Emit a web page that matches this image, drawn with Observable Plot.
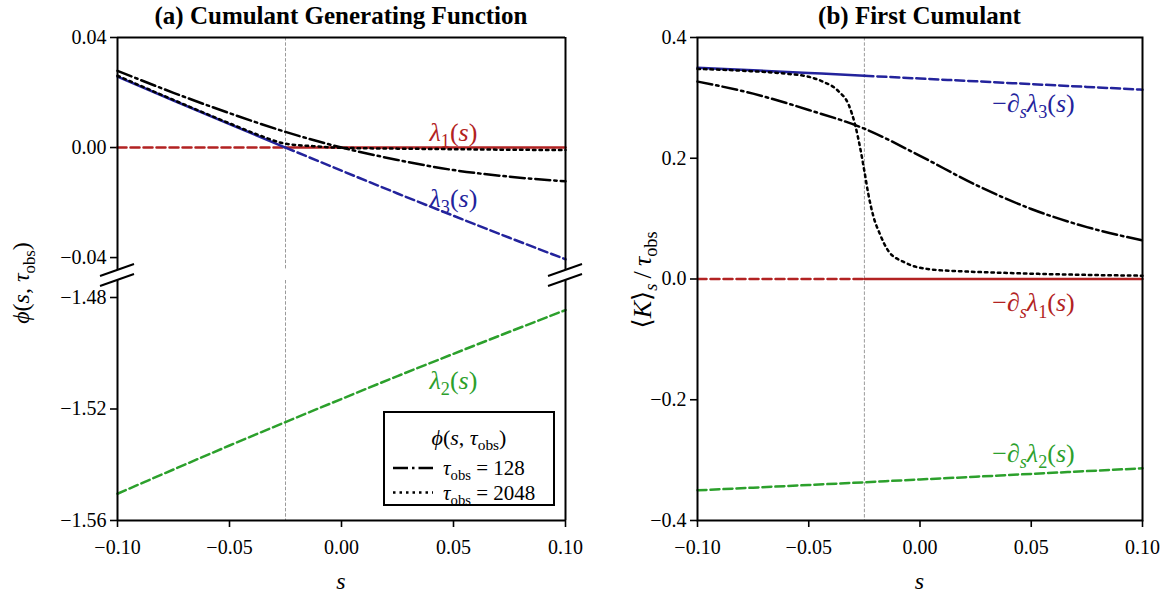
<!DOCTYPE html>
<html><head><meta charset="utf-8">
<script src="https://cdn.jsdelivr.net/npm/d3@7"></script>
<script src="https://cdn.jsdelivr.net/npm/@observablehq/plot@0.6"></script>
<style>
body{margin:0;background:#fff;}
#fig{position:relative;width:1173px;height:599px;overflow:hidden;background:#fff;}
#fig svg{position:absolute;overflow:visible;}
#fig g[aria-label="y-axis tick"] path,#fig g[aria-label="x-axis tick"] path{stroke-width:1.6px;}
</style></head><body><div id="fig"></div>
<script>
// ---------- data ----------
const S = [-0.1,-0.075,-0.05,-0.025,0,0.025,0.05,0.075,0.1];
const lambda1 = [0,0,0,0,0,0,0,0,0];
const lambda3 = [0.0258,0.0171,0.0085,0,-0.0084,-0.0167,-0.0248,-0.0328,-0.0406];
const lambda2 = [-1.5504,-1.5417,-1.5331,-1.5247,-1.5164,-1.5082,-1.5002,-1.4923,-1.4845];
const phi128 = [0.0279,0.0199,0.0125,0.0057,0.0000,-0.0045,-0.0082,-0.0106,-0.0123];
const S2048 = [-0.1,-0.075,-0.05,-0.0375,-0.025,-0.0125,0,0.025,0.05,0.075,0.1];
const phi2048 = [0.0261,0.0173,0.0088,0.0047,0.0014,0.0005,-0.0001,-0.0004,-0.0006,-0.0008,-0.0009];

const dLambda1 = [0,0,0,0,0,0,0,0,0];
const dLambda3 = [0.350,0.3456,0.3412,0.3367,0.332,0.3275,0.3228,0.3182,0.3136];
const dLambda2 = [-0.350,-0.3456,-0.3412,-0.3367,-0.332,-0.3275,-0.3228,-0.3182,-0.3136];
const K128 = [0.327,0.307,0.280,0.249,0.204,0.156,0.116,0.086,0.064];
const SK2048 = [-0.1,-0.08,-0.0588,-0.05,-0.044,-0.0366,-0.0321,-0.0292,-0.0269,-0.025,-0.0232,-0.021,-0.018,-0.0143,-0.0069,0.0035,0.02,0.035,0.0533,0.075,0.1];
const K2048 = [0.348,0.345,0.3395,0.335,0.3274,0.3109,0.2889,0.2559,0.2173,0.1788,0.1403,0.1045,0.0743,0.0468,0.0275,0.0165,0.0125,0.0105,0.0085,0.0068,0.0055];

const sStar = -0.025;
const xTicks = [-0.1,-0.05,0,0.05,0.1];
const yTicksTop = [0.04,0,-0.04];
const yTicksBottom = [-1.48,-1.52,-1.56];
const yTicksRight = [0.4,0.2,0,-0.2,-0.4];

const labelsTop = ["λ1(s)","λ3(s)"], labelsTopS = [0.05,0.05], labelsTopV = [0.0055,-0.0185];
const labelsBottom = ["λ2(s)"], labelsBottomS = [0.05], labelsBottomV = [-1.5098];
const labelsRight = ["−∂sλ3(s)","−∂sλ1(s)","−∂sλ2(s)"], labelsRightS = [0.051,0.051,0.051], labelsRightV = [0.291,-0.040,-0.289];

const RED = "#b22222", BLUE = "#23239c", GREEN = "#2ca02c";
const FONT = '"Liberation Serif","DejaVu Serif",serif';
const DASH = "9,4", DASHDOT = "15,4,2.5,4", DOT = "2.5,4";

const tab = (xs, ys) => xs.map((s, i) => ({s, v: ys[i]}));
const before = d => d.filter(p => p.s <= sStar + 1e-9);
const after = d => d.filter(p => p.s >= sStar - 1e-9);

// ---------- rich math text ----------
function rich(parts, size) {
  let cur = 0, out = "";
  for (const p of parts) {
    const q = typeof p === "string" ? {t: p} : p;
    const off = q.sub ? size * 0.24 : 0;
    const dy = off - cur; cur = off;
    const a = [];
    if (q.i) a.push('font-style="italic"');
    if (q.sub) a.push(`font-size="${(size * 0.7).toFixed(1)}"`);
    if (dy) a.push(`dy="${dy.toFixed(2)}"`);
    out += `<tspan ${a.join(" ")}>${q.t}</tspan>`;
  }
  if (cur) out += `<tspan dy="${(-cur).toFixed(2)}"></tspan>`;
  return out;
}
const I = t => ({t, i: true}), SUB = t => ({t, sub: true}), ISUB = t => ({t, i: true, sub: true});
const RICH = {
  "λ1(s)": [I("λ"), SUB("1"), "(", I("s"), ")"],
  "λ2(s)": [I("λ"), SUB("2"), "(", I("s"), ")"],
  "λ3(s)": [I("λ"), SUB("3"), "(", I("s"), ")"],
  "−∂sλ1(s)": ["−", "∂", ISUB("s"), I("λ"), SUB("1"), "(", I("s"), ")"],
  "−∂sλ2(s)": ["−", "∂", ISUB("s"), I("λ"), SUB("2"), "(", I("s"), ")"],
  "−∂sλ3(s)": ["−", "∂", ISUB("s"), I("λ"), SUB("3"), "(", I("s"), ")"],
};
function richify(svg, size) {
  svg.querySelectorAll("text").forEach(t => {
    const k = t.textContent;
    if (RICH[k]) t.innerHTML = rich(RICH[k], size);
  });
}

const fig = document.getElementById("fig");
const LABEL_SIZE = 26;
const common = {style: {fontFamily: FONT, fontSize: "20px", color: "black", background: "transparent"}};
const vline = Plot.ruleX([sStar], {stroke: "#9a9a9a", strokeWidth: 1, strokeDasharray: "3.5,1.8"});

function place(svg, left, top) {
  svg.style.left = left + "px"; svg.style.top = top + "px";
  fig.appendChild(svg);
}
function breakMarks(plot, yv) {
  const xs = plot.scale("x"), ys = plot.scale("y");
  const y = ys.apply(yv);
  for (const xv of [-0.1, 0.1]) {
    const x = xs.apply(xv);
    const l = document.createElementNS("http://www.w3.org/2000/svg", "line");
    l.setAttribute("x1", x - 17); l.setAttribute("y1", y + 6);
    l.setAttribute("x2", x + 17); l.setAttribute("y2", y - 6);
    l.setAttribute("stroke", "black"); l.setAttribute("stroke-width", 2);
    plot.appendChild(l);
  }
}

// ---------- left top ----------
const topDomain = [-0.0447, 0.04];
const pTop = Plot.plot({
  ...common, width: 590, height: 275,
  marginLeft: 117, marginRight: 25, marginTop: 37, marginBottom: 5,
  x: {domain: [-0.1, 0.1], axis: null},
  y: {domain: topDomain, ticks: yTicksTop, tickFormat: ".2f", tickSize: 7, tickPadding: 4, label: null},
  marks: [
    vline,
    Plot.line(before(tab(S, lambda1)), {x: "s", y: "v", stroke: RED, strokeWidth: 2.5, strokeDasharray: DASH}),
    Plot.line(after(tab(S, lambda1)), {x: "s", y: "v", stroke: RED, strokeWidth: 2.5}),
    Plot.line(before(tab(S, lambda3)), {x: "s", y: "v", stroke: BLUE, strokeWidth: 2.5, curve: "monotone-x"}),
    Plot.line(after(tab(S, lambda3)), {x: "s", y: "v", stroke: BLUE, strokeWidth: 2.5, strokeDasharray: DASH, curve: "monotone-x"}),
    Plot.line(tab(S, phi128), {x: "s", y: "v", stroke: "black", strokeWidth: 2.5, strokeDasharray: DASHDOT, curve: "monotone-x"}),
    Plot.line(tab(S2048, phi2048), {x: "s", y: "v", stroke: "black", strokeWidth: 2.5, strokeDasharray: DOT, curve: "monotone-x"}),
    Plot.text(labelsTop.map((t, i) => ({t, s: labelsTopS[i], v: labelsTopV[i], c: [RED, BLUE][i]})),
      {x: "s", y: "v", text: "t", fill: "c", fontSize: LABEL_SIZE}),
    Plot.ruleX([-0.1, 0.1], {stroke: "black", strokeWidth: 2}),
    Plot.ruleY([topDomain[1]], {stroke: "black", strokeWidth: 2})
  ]
});
richify(pTop, LABEL_SIZE);
breakMarks(pTop, topDomain[0]);
place(pTop, 0, 0);

// ---------- left bottom ----------
const botDomain = [-1.56, -1.4739];
const pBot = Plot.plot({
  ...common, width: 590, height: 324,
  marginLeft: 117, marginRight: 25, marginTop: 5, marginBottom: 79,
  x: {domain: [-0.1, 0.1], ticks: xTicks, tickFormat: ".2f", tickSize: 7, tickPadding: 12, label: null},
  y: {domain: botDomain, ticks: yTicksBottom, tickFormat: ".2f", tickSize: 7, tickPadding: 4, label: null},
  marks: [
    vline,
    Plot.line(tab(S, lambda2), {x: "s", y: "v", stroke: GREEN, strokeWidth: 2.5, strokeDasharray: DASH, curve: "monotone-x"}),
    Plot.text(labelsBottom.map((t, i) => ({t, s: labelsBottomS[i], v: labelsBottomV[i]})),
      {x: "s", y: "v", text: "t", fill: GREEN, fontSize: LABEL_SIZE}),
    Plot.ruleX([-0.1, 0.1], {stroke: "black", strokeWidth: 2}),
    Plot.ruleY([botDomain[0]], {stroke: "black", strokeWidth: 2})
  ]
});
richify(pBot, LABEL_SIZE);
breakMarks(pBot, botDomain[1]);
place(pBot, 0, 275);

// ---------- right ----------
const pRight = Plot.plot({
  ...common, width: 593, height: 599,
  marginLeft: 117, marginRight: 31, marginTop: 37, marginBottom: 79,
  x: {domain: [-0.1, 0.1], ticks: xTicks, tickFormat: ".2f", tickSize: 7, tickPadding: 12, label: null},
  y: {domain: [-0.4, 0.4], ticks: yTicksRight, tickFormat: ".1f", tickSize: 7, tickPadding: 4, label: null},
  marks: [
    vline,
    Plot.line(before(tab(S, dLambda1)), {x: "s", y: "v", stroke: RED, strokeWidth: 2.5, strokeDasharray: DASH}),
    Plot.line(after(tab(S, dLambda1)), {x: "s", y: "v", stroke: RED, strokeWidth: 2.5}),
    Plot.line(before(tab(S, dLambda3)), {x: "s", y: "v", stroke: BLUE, strokeWidth: 2.5, curve: "monotone-x"}),
    Plot.line(after(tab(S, dLambda3)), {x: "s", y: "v", stroke: BLUE, strokeWidth: 2.5, strokeDasharray: DASH, curve: "monotone-x"}),
    Plot.line(tab(S, dLambda2), {x: "s", y: "v", stroke: GREEN, strokeWidth: 2.5, strokeDasharray: DASH, curve: "monotone-x"}),
    Plot.line(tab(S, K128), {x: "s", y: "v", stroke: "black", strokeWidth: 2.5, strokeDasharray: DASHDOT, curve: "monotone-x"}),
    Plot.line(tab(SK2048, K2048), {x: "s", y: "v", stroke: "black", strokeWidth: 2.5, strokeDasharray: DOT, curve: "monotone-x"}),
    Plot.text(labelsRight.map((t, i) => ({t, s: labelsRightS[i], v: labelsRightV[i], c: [BLUE, RED, GREEN][i]})),
      {x: "s", y: "v", text: "t", fill: "c", fontSize: LABEL_SIZE}),
    Plot.frame({stroke: "black", strokeWidth: 2})
  ]
});
richify(pRight, LABEL_SIZE);
place(pRight, 580, 0);

// ---------- overlay: titles, axis labels, legend ----------
const NS = "http://www.w3.org/2000/svg";
const ov = document.createElementNS(NS, "svg");
ov.setAttribute("width", 1173); ov.setAttribute("height", 599);
ov.style.left = "0px"; ov.style.top = "0px";
ov.setAttribute("font-family", FONT);
function txt(x, y, parts, size, opts = {}) {
  const t = document.createElementNS(NS, "text");
  t.setAttribute("x", x); t.setAttribute("y", y);
  t.setAttribute("font-size", size);
  t.setAttribute("text-anchor", opts.anchor || "middle");
  if (opts.bold) t.setAttribute("font-weight", "bold");
  if (opts.rotate) t.setAttribute("transform", `rotate(-90 ${x} ${y})`);
  t.innerHTML = typeof parts === "string" ? parts : rich(parts, size);
  ov.appendChild(t);
  return t;
}
txt(341, 24, "(a) Cumulant Generating Function", 25, {bold: true});
txt(919.5, 24, "(b) First Cumulant", 25, {bold: true});
txt(341, 589, [I("s")], 24);
txt(919.5, 589, [I("s")], 24);
txt(29, 283, [I("ϕ"), "(", I("s"), ", ", I("τ"), SUB("obs"), ")"], 24, {rotate: true});
txt(651, 280, ["⟨", I("K"), "⟩", ISUB("s"), "\u2009/\u2009", I("τ"), SUB("obs")], 26, {rotate: true});

// legend
const rect = document.createElementNS(NS, "rect");
rect.setAttribute("x", 384); rect.setAttribute("y", 412);
rect.setAttribute("width", 170); rect.setAttribute("height", 93);
rect.setAttribute("fill", "white"); rect.setAttribute("stroke", "black"); rect.setAttribute("stroke-width", 2);
ov.appendChild(rect);
txt(469, 445, [I("ϕ"), "(", I("s"), ", ", I("τ"), SUB("obs"), ")"], 22);
const legendTau = ["128", "2048"], legendDash = [DASHDOT, DOT];
legendTau.forEach((v, i) => {
  const y = 468 + i * 24.5;
  const l = document.createElementNS(NS, "line");
  l.setAttribute("x1", 393); l.setAttribute("x2", 433); l.setAttribute("y1", y); l.setAttribute("y2", y);
  l.setAttribute("stroke", "black"); l.setAttribute("stroke-width", 2.5); l.setAttribute("stroke-dasharray", legendDash[i]);
  ov.appendChild(l);
  txt(443, y + 7, [I("τ"), SUB("obs"), " = " + v], 21, {anchor: "start"});
});
fig.appendChild(ov);
</script></body></html>
